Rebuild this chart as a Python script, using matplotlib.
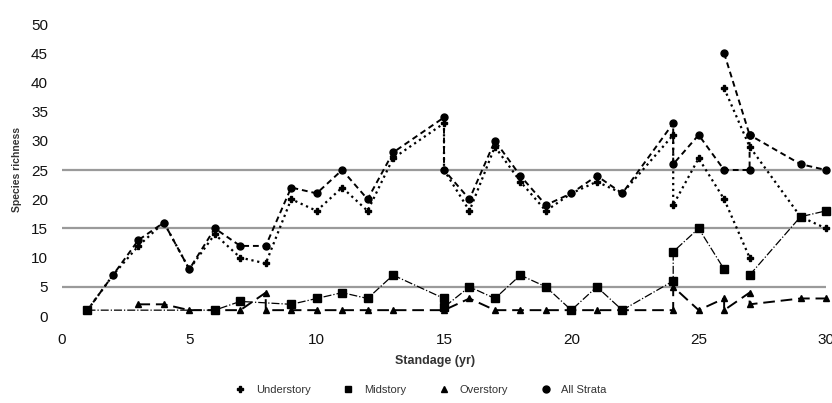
import numpy as np
import matplotlib
matplotlib.use("Agg")
import matplotlib.pyplot as plt
from matplotlib.lines import Line2D

nan = np.nan

# ---- data (NaN breaks a line between stands) ----
under_x = [1, 2, 3, 4, 5, 6, 7, 8, 9, 10, 11, 12, 13, 15, 15, 16, 17, 18, 19, 20, 21, 22,
           24, 24, 25, 26, 27, nan, 26, 27, 29, 30]
under_y = [1, 7, 12, 16, 8, 14, 10, 9, 20, 18, 22, 18, 27, 33, 25, 18, 29, 23, 18, 21, 23, 21,
           31, 19, 27, 20, 10, nan, 39, 29, 17, 15]

mid_x = [1, 6, 7, 9, 10, 11, 12, 13, 15, 15, 16, 17, 18, 19, 20, 21, 22, 24, 24, 25, 26,
         nan, 27, 29, 30]
mid_y = [1, 1, 2.5, 2, 3, 4, 3, 7, 3, 1.5, 5, 3, 7, 5, 1, 5, 1, 6, 11, 15, 8,
         nan, 7, 17, 18]

over_x = [3, 4, 5, 6, 7, 8, 8, 9, 10, 11, 12, 13, 15, 16, 17, 18, 19, 20, 21, 22, 24, 24,
          25, 26, 26, 27, 27, 29, 30]
over_y = [2, 2, 1, 1, 1, 4, 1, 1, 1, 1, 1, 1, 1, 3, 1, 1, 1, 1, 1, 1, 1, 5,
          1, 3, 1, 4, 2, 3, 3]

all_x = [1, 2, 3, 4, 5, 6, 7, 8, 9, 10, 11, 12, 13, 15, 15, 16, 17, 18, 19, 20, 21, 22,
         24, 24, 25, 26, 27, 27, 29, 30, nan, 26, 27]
all_y = [1, 7, 13, 16, 8, 15, 12, 12, 22, 21, 25, 20, 28, 34, 25, 20, 30, 24, 19, 21, 24, 21,
         33, 26, 31, 25, 25, 31, 26, 25, nan, 45, 31]

series_names = ["Understory", "Midstory", "Overstory", "All Strata"]
x_ticks = [0, 5, 10, 15, 20, 25, 30]
y_ticks = [0, 5, 10, 15, 20, 25, 30, 35, 40, 45, 50]
grid_levels = [5, 15, 25]

plt.rcParams['font.family'] = ['Liberation Sans', 'DejaVu Sans']

fig = plt.figure(figsize=(8.32, 4.03), dpi=100)
ax = fig.add_axes([62/832, 1-316/403, 764/832, 292/403])

for g in grid_levels:
    ax.axhline(g, color='#9a9a9a', lw=1.6, zorder=0)

ax.plot(under_x, under_y, color='black', ls=':', lw=1.6, marker='P', ms=5,
        label=series_names[0], clip_on=False)
ax.plot(mid_x, mid_y, color='black', ls='-.', lw=0.9, marker='s', ms=6,
        label=series_names[1], clip_on=False)
ax.plot(over_x, over_y, color='black', ls=(0, (6, 3)), lw=1.4, marker='^', ms=5,
        label=series_names[2], clip_on=False)
ax.plot(all_x, all_y, color='black', ls=(0, (3, 2)), lw=1.4, marker='o', ms=5,
        label=series_names[3], clip_on=False)

ax.set_xlim(0, 30)
ax.set_ylim(0, 50)
ax.set_xticks(x_ticks)
ax.set_yticks(y_ticks)
ax.tick_params(axis='both', length=0, labelsize=11, colors='#111111')
ax.tick_params(axis='y', pad=10)
ax.tick_params(axis='x', pad=12)
for s in ax.spines.values():
    s.set_visible(False)

ax.set_xlabel("Standage (yr)", fontsize=9, fontweight='bold', color='#333333')
ax.xaxis.set_label_coords(0.488, -0.135)
ax.set_ylabel("Species richness", fontsize=7.5, fontweight='bold', color='#333333')
ax.yaxis.set_label_coords(-0.052, 0.5)

leg_handles = [Line2D([], [], ls='none', color='black', marker=m, ms=ms)
               for m, ms in zip(['P', 's', '^', 'o'], [5, 5, 4, 5])]
fig.legend(leg_handles, series_names, loc='center', bbox_to_anchor=(420/832, 1-390/403),
           ncol=4, frameon=False, fontsize=8, handlelength=1.2, columnspacing=2.8,
           handletextpad=0.8, labelcolor='#333333')

fig.savefig("out.png", dpi=100)
